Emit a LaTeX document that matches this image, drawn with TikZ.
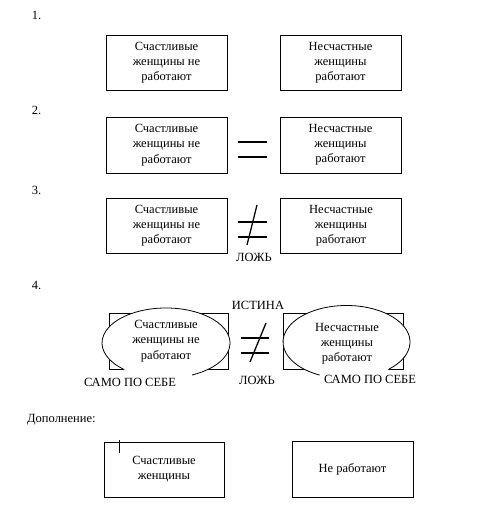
\documentclass[tikz,border=0pt]{standalone}
\usepackage{fontspec}
\setmainfont{Liberation Serif}
\begin{document}
\begin{tikzpicture}[x=1pt,y=1pt,
  box/.style={draw, line width=0.8pt, inner sep=0pt, minimum width=121pt, minimum height=55pt, align=center, font=\fontsize{12.5}{15.2}\selectfont},
  txt/.style={inner sep=0pt, align=center, font=\fontsize{12.5}{15.2}\selectfont},
  lbl/.style={inner sep=0pt, font=\fontsize{12.5}{15}\selectfont},
  sign/.style={line width=1.5pt},
  oval/.style={line width=0.8pt}]
\useasboundingbox (0,0) rectangle (499,505);
% numbers
\node[lbl] (n1) at (36.5,490) {1.};
\node[lbl] (n2) at (36.5,395) {2.};
\node[lbl] (n3) at (36.5,315) {3.};
\node[lbl] (n4) at (36.5,220) {4.};
% row 1
\node[box] (a1) at (166.5,442.5) {Счастливые\\женщины не\\работают};
\node[box] (b1) at (340.5,442.5) {Несчастные\\женщины\\работают};
% row 2
\node[box, minimum height=56pt] (a2) at (166.5,360) {Счастливые\\женщины не\\работают};
\node[box, minimum height=56pt] (b2) at (340.5,360) {Несчастные\\женщины\\работают};
\draw[sign] (238,363) -- (267,363);
\draw[sign] (238,348) -- (267,348);
% row 3
\node[box] (a3) at (166.5,279.5) {Счастливые\\женщины не\\работают};
\node[box] (b3) at (341,279.5) {Несчастные\\женщины\\работают};
\draw[sign] (238,283) -- (267,283);
\draw[sign] (238,268) -- (267,268);
\draw[line width=1.3pt] (257,300) -- (247,260);
\node[lbl] (f3) at (254,248) {ЛОЖЬ};
% row 4
\node[draw, line width=0.8pt, minimum width=119pt, minimum height=56pt] (a4) at (168.5,164) {};
\node[draw, line width=0.8pt, minimum width=120pt, minimum height=56pt] (b4) at (343,164) {};
\fill[white] (166,162) ellipse[x radius=64, y radius=35];
\draw[oval] (166,162) ++(-66:64 and 35) arc[start angle=-66, end angle=228, x radius=64, y radius=35];
\fill[white] (346.5,163) ellipse[x radius=63.5, y radius=36.5];
\draw[oval] (346.5,163) ++(-48:63.5 and 36.5) arc[start angle=-48, end angle=245, x radius=63.5, y radius=36.5];
\node[txt] (t4a) at (166,164) {Счастливые\\женщины не\\работают};
\node[txt] (t4b) at (347,161) {Несчастные\\женщины\\работают};
\draw[sign] (241,167) -- (269,167);
\draw[sign] (241,152) -- (269,152);
\draw[line width=1.3pt] (266,182) -- (250,143);
\node[lbl] (tr) at (258,200) {ИСТИНА};
\node[lbl] (f4) at (257,125) {ЛОЖЬ};
\node[lbl] (s1) at (130,123) {САМО ПО СЕБЕ};
\node[lbl] (s2) at (370,126) {САМО ПО СЕБЕ};
% addition
\node[lbl, anchor=west] (add) at (27,85) {Дополнение:};
\node[box, minimum width=120pt] (a5) at (164,35.5) {Счастливые\\женщины};
\node[box, minimum width=121pt, minimum height=56pt] (b5) at (352.5,36) {Не работают};
\draw[line width=0.6pt] (119,65) -- (119,52);
\end{tikzpicture}
\end{document}
